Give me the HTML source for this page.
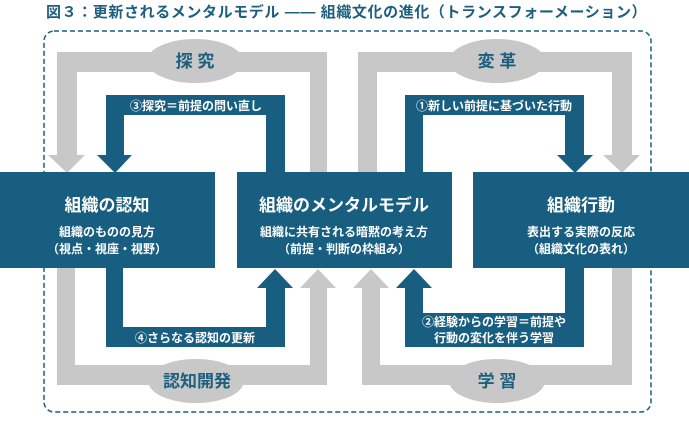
<!DOCTYPE html><html><head><meta charset="utf-8"><style>
body{margin:0;width:689px;height:417px;background:#fff;overflow:hidden;font-family:"Liberation Sans","Noto Sans CJK JP",sans-serif}
</style></head><body>
<svg width="689" height="417" xmlns="http://www.w3.org/2000/svg" style="font-family:'Liberation Sans','Noto Sans CJK JP',sans-serif">
<text x="46" y="17" font-size="15" font-weight="bold" fill="#1d5f7f" letter-spacing="0.6">図３：更新されるメンタルモデル —— 組織文化の進化（トランスフォーメーション）</text>
<rect x="44" y="31" width="607" height="381" rx="10" fill="none" stroke="#175e80" stroke-width="1.5" stroke-dasharray="5,3"/>
<g fill="#c8c8c8">
<path d="M57 52H327V172H310V72H77V155H85L67 173L48 155H57Z"/>
<path d="M358 172V52H632V155H640L622 173L603 155H612V72H377V172Z"/>
<path d="M57 267H75V365H310V288H300L318 269L336 288H327V385H57Z"/>
<path d="M632 267V385H362V288H353L371 269L389 288H380V365H612V267Z"/>
<ellipse cx="195" cy="61" rx="48" ry="22"/><ellipse cx="497" cy="61" rx="48" ry="22"/>
<ellipse cx="196" cy="381" rx="48" ry="22"/><ellipse cx="497" cy="381" rx="48" ry="22"/>
</g>
<g fill="#175e80">
<path d="M106 95H285V172H266V115H124V155H132L115 173L97 155H106Z"/>
<path d="M405 172V95H584V155H593L575 173L557 155H565V115H423V172Z"/>
<path d="M106 267H123V327H266V288H257L275 269L293 288H285V347H106Z"/>
<path d="M584 267V347H405V288H396L414 269L432 288H423V313H565V267Z"/>
<rect x="0" y="172" width="215" height="96"/><rect x="237" y="172" width="215" height="96"/><rect x="473" y="172" width="216" height="96"/>
</g>
<g fill="#1d5f7f" font-weight="bold" font-size="17" text-anchor="middle">
<text x="195" y="67">探 究</text><text x="497" y="67">変 革</text><text x="197" y="387">認知開発</text><text x="497" y="387">学 習</text>
</g>
<g fill="#fff" text-anchor="middle" font-weight="bold">
<text x="196" y="110" font-size="12">③探究＝前提の問い直し</text>
<text x="494" y="110" font-size="12">①新しい前提に基づいた行動</text>
<text x="195" y="342" font-size="12">④さらなる認知の更新</text>
<text x="494" y="326" font-size="12">②経験からの学習＝前提や</text>
<text x="494" y="342" font-size="12">行動の変化を伴う学習</text>
<g font-size="17"><text x="107" y="211">組織の認知</text><text x="344" y="211">組織のメンタルモデル</text><text x="581" y="211">組織行動</text></g>
<g font-size="12"><text x="107" y="236">組織のものの見方</text><text x="107" y="253">（視点・視座・視野）</text>
<text x="344" y="236">組織に共有される暗黙の考え方</text><text x="344" y="253">（前提・判断の枠組み）</text>
<text x="581" y="236">表出する実際の反応</text><text x="581" y="253">（組織文化の表れ）</text></g>
</g>
</svg>
</body></html>
